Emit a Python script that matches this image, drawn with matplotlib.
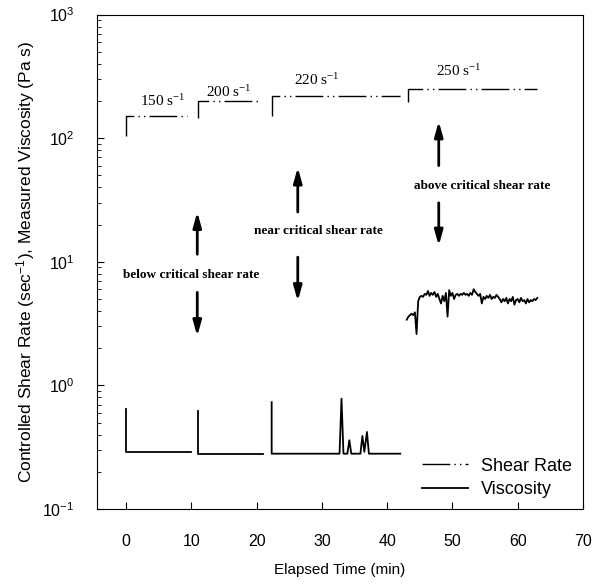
import numpy as np
import matplotlib
matplotlib.use('Agg')
import matplotlib.pyplot as plt

plt.rcParams['font.family'] = ['Liberation Sans', 'DejaVu Sans']
plt.rcParams['mathtext.default'] = 'regular'

# shear rate steps (time in min, rate in 1/s)
rate_t = [[0, 0, 9.4], [11.0, 11.0, 20.5], [22.3, 22.3, 42.0], [43.2, 43.2, 63.0]]
rate_v = [[105, 150, 150], [145, 200, 200], [150, 220, 220], [195, 250, 250]]
rate_labels = ['150 s$^{-1}$', '200 s$^{-1}$', '220 s$^{-1}$', '250 s$^{-1}$']
rate_label_t = [5.6, 15.8, 29.2, 51.0]
rate_label_v = [201, 235, 298, 347]

# viscosity (Pa s)
visc1_t = [0, 0, 10.0]
visc1_v = [0.64, 0.29, 0.29]
visc2_t = [11.0, 11.0, 20.9]
visc2_v = [0.62, 0.28, 0.28]
visc3_t = [22.3, 22.3, 32.7, 33.0, 33.3, 33.9, 34.2, 34.5, 35.9, 36.2, 36.5, 36.9, 37.2, 42.0]
visc3_v = [0.73, 0.28, 0.28, 0.78, 0.28, 0.28, 0.36, 0.28, 0.28, 0.39, 0.29, 0.42, 0.28, 0.28]
visc4_v = [3.4, 3.6, 3.7, 3.8, 3.7, 3.9, 2.6, 4.8, 5.2, 5.3, 5.2, 5.5, 5.4, 5.8, 5.3, 5.6,
           5.4, 5.7, 5.2, 5.5, 5.0, 4.6, 5.3, 4.8, 5.6, 3.6, 5.9, 5.3, 5.6, 5.0, 5.4, 5.5,
           5.3, 5.5, 5.4, 5.6, 5.4, 5.5, 5.3, 5.6, 5.4, 6.0, 5.7, 5.5, 5.3, 5.5, 4.6, 5.2,
           5.0, 5.3, 5.1, 5.4, 5.0, 5.2, 5.1, 5.4, 5.2, 5.0, 4.7, 5.0, 4.8, 5.1, 4.6, 5.0,
           4.8, 5.2, 4.5, 4.9, 5.0, 4.7, 5.1, 4.8, 4.9, 4.6, 5.0, 4.7, 4.9, 4.8, 5.0, 4.9, 5.1]
visc4_t = 43.0 + 0.25 * np.arange(len(visc4_v))

# annotations: text position and arrows (up arrow from->to, down arrow from->to)
notes = ['below critical shear rate', 'near critical shear rate', 'above critical shear rate']
note_t = [9.9, 29.5, 54.6]
note_v = [7.8, 17.7, 41]
arrow_t = [10.9, 26.3, 47.9]
up_from = [11.5, 25.3, 60]
up_to = [25.3, 58, 137]
down_from = [5.66, 10.9, 30]
down_to = [2.5, 4.8, 13.5]

fig = plt.figure(figsize=(6.01, 5.85), dpi=100)
ax = fig.add_axes([0.161, 0.130, 0.809, 0.845])

dash = (0, (20, 3, 1, 3, 1, 3))
for i in range(4):
    ax.plot(rate_t[i], rate_v[i], color='black', lw=1.0, linestyle=dash,
            label='Shear Rate' if i == 0 else None)
    ax.text(rate_label_t[i], rate_label_v[i], rate_labels[i], ha='center', va='center',
            fontsize=11, family='Liberation Serif')

ax.plot(visc1_t, visc1_v, color='black', lw=1.3, label='Viscosity')
ax.plot(visc2_t, visc2_v, color='black', lw=1.3)
ax.plot(visc3_t, visc3_v, color='black', lw=1.3)
ax.plot(visc4_t, visc4_v, color='black', lw=1.3)

for i in range(3):
    ax.text(note_t[i], note_v[i], notes[i], ha='center', va='center', fontsize=9.5,
            family='Liberation Serif', fontweight='bold')
    for a, b in [(up_from[i], up_to[i]), (down_from[i], down_to[i])]:
        ax.annotate('', xy=(arrow_t[i], b), xytext=(arrow_t[i], a),
                    arrowprops=dict(arrowstyle='-|>,head_length=0.9,head_width=0.25',
                                    color='black', lw=2.0, shrinkA=0, shrinkB=0))

ax.set_yscale('log')
ax.set_ylim(0.1, 1000)
ax.set_xlim(-4.5, 70)
ax.set_xticks(range(0, 71, 10))
ax.tick_params(which='both', direction='in', labelsize=11.5)
ax.tick_params(which='major', length=5)
ax.tick_params(which='minor', length=3)
ax.tick_params(axis='x', pad=18)
ax.tick_params(axis='y', pad=16)
ax.set_xlabel('Elapsed Time (min)', fontsize=11, labelpad=10)
ax.set_ylabel('Controlled Shear Rate (sec$^{-1}$), Measured Viscosity (Pa s)', fontsize=12.5,
              labelpad=4)

leg = ax.legend(loc='lower right', frameon=False, fontsize=13, handlelength=2.6,
                handletextpad=0.7, borderaxespad=0.2, labelspacing=0.35)

plt.savefig('out.png', dpi=100)
